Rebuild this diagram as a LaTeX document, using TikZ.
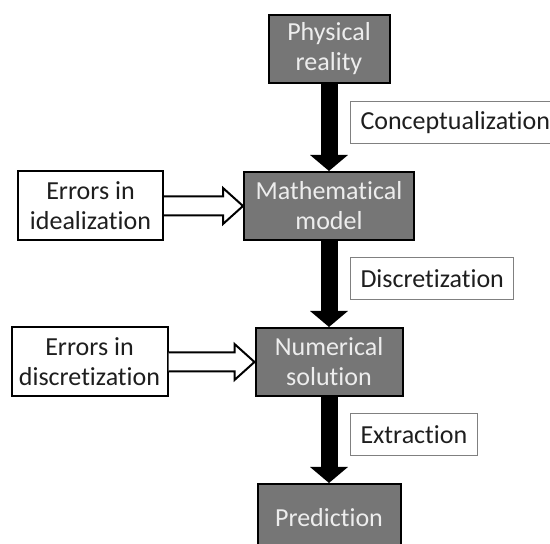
\documentclass[tikz,border=0pt]{standalone}
\usepackage{fontspec}
\setmainfont{Carlito}[Ligatures=NoCommon]
\usetikzlibrary{positioning,arrows.meta,calc}
\definecolor{boxgray}{HTML}{767676}
\definecolor{boxtext}{HTML}{EDEDED}
\definecolor{framegray}{HTML}{808080}
\definecolor{ink}{HTML}{1E1E1E}
\tikzset{
  stage/.style={rectangle, draw=black, line width=2pt, fill=boxgray, text=boxtext,
                minimum height=68pt, font=\fontsize{26}{30}\selectfont, inner sep=2pt, align=center},
  error/.style={rectangle, draw=black, line width=2pt, fill=white, text=ink,
                minimum height=69pt, font=\fontsize{26}{30}\selectfont, inner sep=2pt, align=center},
  tag/.style={rectangle, draw=framegray, line width=1pt, text=ink, anchor=west,
              minimum height=42pt, inner xsep=10pt, font=\fontsize{26}{30}\selectfont},
  flow/.style={line width=17pt, draw=black, -{Triangle[length=16pt,width=37pt]}},
  hollow/.style={draw=black, line width=2pt, fill=white, line join=miter},
}
% block arrow from an error box into a stage
\newcommand{\feedarrow}[2]{%
  \draw[hollow] ([yshift=9.5pt]#1.east) -- ([xshift=-20pt,yshift=9.5pt]#2.west)
    -- ([xshift=-20pt,yshift=18pt]#2.west) -- (#2.west)
    -- ([xshift=-20pt,yshift=-18pt]#2.west) -- ([xshift=-20pt,yshift=-9.5pt]#2.west)
    -- ([yshift=-9.5pt]#1.east);}
\begin{document}
\begin{tikzpicture}[x=1pt, y=1pt, node distance=86pt]
    \useasboundingbox (0,0) rectangle (550,544);
    \clip (0,0) rectangle (550,544);
    \node[stage, minimum width=121pt] (phys) at (329,495) {Physical\\reality};
    \node[stage, minimum width=170pt, below=87pt of phys] (math) {Mathematical\\model};
    \node[stage, minimum width=147pt, below=of math] (num) {Numerical\\solution};
    \node[stage, minimum width=143pt, below=of num] (pred) {Prediction};
    \node[error, minimum width=145pt, left=79pt of math] (ideal) {Errors in\\idealization};
    \node[error, minimum width=156pt, left=86pt of num] (disc) {Errors in\\discretization};
    \draw[flow] (phys) -- (math);
    \draw[flow] (math) -- (num);
    \draw[flow] (num) -- (pred);
    \node[tag, text width=195pt, align=left] (concept) at ($(phys.south)!.5!(math.north)+(21,5)$) {Conceptualization};
    \node[tag] (discr) at ($(math.south)!.5!(num.north)+(21,5)$) {Discretization};
    \node[tag] (extr) at ($(num.south)!.5!(pred.north)+(21,5)$) {Extraction};
    \feedarrow{ideal}{math}
    \feedarrow{disc}{num}
  \end{tikzpicture}
\end{document}
